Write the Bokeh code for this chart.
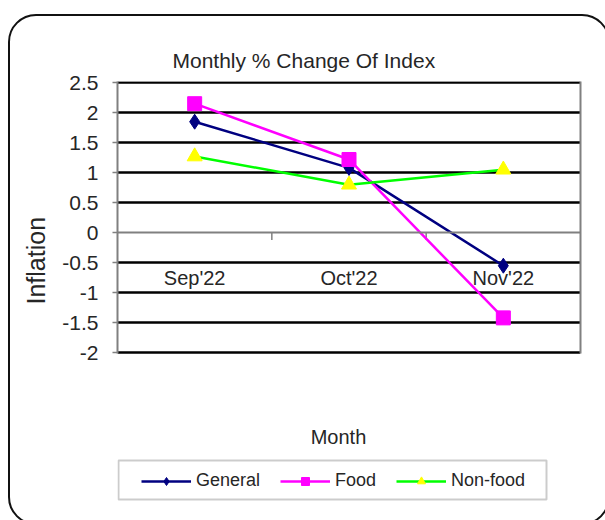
from bokeh.plotting import figure
from bokeh.models import (FactorRange, Range1d, FixedTicker, LinearAxis, Label, Title,
                          BoxAnnotation, Legend, LegendItem, ColumnDataSource,
                          InlineStyleSheet)
from bokeh.transform import dodge
from bokeh.embed import file_html
from bokeh.resources import INLINE

# ---- data ----
months = ["Sep'22", "Oct'22", "Nov'22"]
general = [1.85, 1.08, -0.55]
food = [2.15, 1.22, -1.42]
nonfood = [1.27, 0.80, 1.05]
ytick_values = [-2, -1.5, -1, -0.5, 0, 0.5, 1, 1.5, 2, 2.5]
ytick_labels = ["-2", "-1.5", "-1", "-0.5", "0", "0.5", "1", "1.5", "2", "2.5"]
title_text = "Monthly % Change Of Index"
x_title = "Month"
y_title = "Inflation"
series_names = ["General", "Food", "Non-food"]

FONT = "Liberation Sans"
TXT = "#262626"
AX = "#808080"

p = figure(width=605, height=520,
           x_range=FactorRange(factors=months, range_padding=0),
           y_range=Range1d(-4.797, 2.52),
           output_backend="svg", toolbar_location=None,
           min_border_left=117, min_border_right=25,
           min_border_top=81, min_border_bottom=0)
p.background_fill_color = "white"
p.border_fill_color = "white"
p.outline_line_color = None

# rounded outer frame (decoration, CSS)
p.stylesheets = [InlineStyleSheet(css="""
:host::after { content: ""; position: fixed; left: 8px; top: 14px;
  width: 602px; height: 511px; box-sizing: border-box;
  border: 2px solid #111; border-radius: 28px; pointer-events: none; }
""")]

# title
p.title.text = title_text
p.title.text_font = FONT
p.title.text_font_size = "21px"
p.title.text_font_style = "normal"
p.title.text_color = TXT
p.title.align = "left"
p.title.offset = 55
p.title.standoff = 20

# x axis at y = 0
xa = p.xaxis[0]
xa.fixed_location = 0
xa.axis_line_color = AX
xa.axis_line_width = 2
xa.major_tick_line_color = None
xa.major_tick_in = 0
xa.major_tick_out = 0
xa.major_label_standoff = 34
xa.major_label_text_font = FONT
xa.major_label_text_font_size = "20px"
xa.major_label_text_color = TXT
p.xgrid.visible = False

# y axis
ya = p.yaxis[0]
ya.ticker = FixedTicker(ticks=ytick_values)
ya.bounds = (-2.02, 2.52)
ya.major_label_overrides = dict(zip(ytick_values, ytick_labels))
ya.axis_line_color = AX
ya.axis_line_width = 2
ya.major_tick_line_color = AX
ya.major_tick_line_width = 1.5
ya.major_tick_in = 0
ya.major_tick_out = 5
ya.minor_tick_line_color = None
ya.major_label_standoff = 14
ya.major_label_text_font = FONT
ya.major_label_text_font_size = "21px"
ya.major_label_text_color = TXT

# y title
p.add_layout(Title(text=y_title, align="left", offset=216, vertical_align="middle",
                   standoff=18, text_font=FONT, text_font_size="25px",
                   text_font_style="normal", text_color=TXT), "left")

g = p.ygrid[0]
g.ticker = FixedTicker(ticks=[v for v in ytick_values if v != 0])
g.grid_line_color = "black"
g.grid_line_width = 2.5

# right border
ra = LinearAxis(ticker=FixedTicker(ticks=[]), bounds=(-2.02, 2.52),
                axis_line_color=AX, axis_line_width=2,
                major_tick_line_color=None, minor_tick_line_color=None,
                major_tick_in=0, major_tick_out=0, minor_tick_in=0, minor_tick_out=0,
                major_label_text_color=None, major_label_standoff=0)
p.add_layout(ra, "right")

# small ticks between categories on the x axis
bsrc = ColumnDataSource(dict(b=months[:-1], y0=[0] * (len(months) - 1),
                             y1=[-0.12] * (len(months) - 1)))
p.segment(x0=dodge("b", 0.5, range=p.x_range), y0="y0",
          x1=dodge("b", 0.5, range=p.x_range), y1="y1",
          source=bsrc, line_color=AX, line_width=1.5)

src = ColumnDataSource(dict(month=months, general=general, food=food, nonfood=nonfood))

r1 = p.line("month", "general", source=src, line_color="#000080", line_width=2.5)
m1 = p.scatter("month", "general", source=src, marker="diamond", size=15,
               fill_color="#000080", line_color="#000080")
r2 = p.line("month", "food", source=src, line_color="#FF00FF", line_width=2.5)
m2 = p.scatter("month", "food", source=src, marker="square", size=14,
               fill_color="#FF00FF", line_color="#FF00FF")
r3 = p.line("month", "nonfood", source=src, line_color="#00FF00", line_width=2.5)
m3 = p.scatter("month", "nonfood", source=src, marker="triangle", size=15,
               fill_color="#FFFF00", line_color="#FFFF00")

# x title
p.add_layout(Label(x=221, y=84, x_units="screen", y_units="screen", text=x_title,
                   text_align="center", text_baseline="middle",
                   text_font=FONT, text_font_size="20px", text_color=TXT))

# legend box
p.add_layout(BoxAnnotation(left=1, right=429, top=60, bottom=21,
                           left_units="screen", right_units="screen",
                           top_units="screen", bottom_units="screen",
                           fill_color=None, line_color="#555555", line_width=2))

legend = Legend(items=[LegendItem(label=series_names[0], renderers=[r1, m1]),
                       LegendItem(label=series_names[1], renderers=[r2, m2]),
                       LegendItem(label=series_names[2], renderers=[r3, m3])],
                orientation="horizontal", location=(24, 29),
                padding=25, spacing=20, label_standoff=5,
                glyph_width=50, glyph_height=20, margin=0,
                border_line_color=None, background_fill_alpha=0,
                label_text_font=FONT, label_text_font_size="18px",
                label_text_color=TXT)
p.add_layout(legend, "center")

open("out.html", "w").write(file_html(p, INLINE))
